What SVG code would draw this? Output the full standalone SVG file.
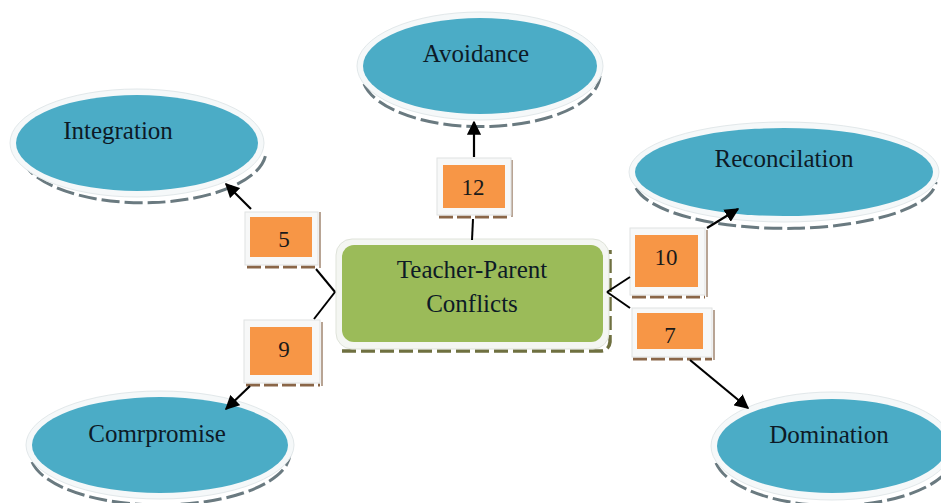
<svg xmlns="http://www.w3.org/2000/svg" width="941" height="503" viewBox="0 0 941 503">
<defs>
<style>
.ell{fill:#4bacc6}
.rim{fill:#f5f8f9;stroke:#e2e8ea;stroke-width:1}
.esh{fill:none;stroke:#6a7a80;stroke-width:3;stroke-dasharray:18 5}
.lbl{font-family:"Liberation Serif","Times New Roman",serif;font-size:25px;fill:#0d1a26;text-anchor:middle}
.num{font-family:"Liberation Serif","Times New Roman",serif;font-size:23px;fill:#1a1a1a;text-anchor:middle}
.frame{fill:#f7f8f8;stroke:#e0e2e2;stroke-width:1}
.org{fill:#f79646}
.bsh{fill:none;stroke:#8a6648;stroke-width:3;stroke-dasharray:14 4}
.bsr{fill:none;stroke:#a08670;stroke-width:1.5}
.con{fill:none;stroke:#000;stroke-width:2}
.arr{fill:none;stroke:#000;stroke-width:2.2;marker-end:url(#ah)}
</style>
<marker id="ah" viewBox="0 0 10 10" refX="9" refY="5" markerWidth="6.5" markerHeight="6.5" markerUnits="strokeWidth" orient="auto">
<path d="M0,0 L10,5 L0,10 z" fill="#000"/>
</marker>
</defs>
<rect width="941" height="503" fill="#ffffff"/>

<g id="integration">
<path class="esh" d="M22,160 A123,52 0 0 0 266,152"/>
<ellipse class="rim" cx="137" cy="143" rx="127" ry="54"/>
<ellipse class="ell" cx="137" cy="143" rx="121" ry="48"/>
<text class="lbl" x="118" y="139">Integration</text>
</g>

<g id="avoidance">
<path class="esh" d="M364,84 A119,52 0 0 0 600,76"/>
<ellipse class="rim" cx="480" cy="66" rx="123" ry="54"/>
<ellipse class="ell" cx="480" cy="66" rx="117" ry="48"/>
<text class="lbl" x="476" y="62">Avoidance</text>
</g>

<g id="reconcilation">
<path class="esh" d="M636,188 A151,48 0 0 0 936,182"/>
<ellipse class="rim" cx="784" cy="172" rx="155" ry="50"/>
<ellipse class="ell" cx="784" cy="172" rx="149" ry="44"/>
<text class="lbl" x="784" y="167">Reconcilation</text>
</g>

<g id="compromise">
<path class="esh" d="M32,462 A130,52 0 0 0 290,454"/>
<ellipse class="rim" cx="160" cy="445" rx="134" ry="54"/>
<ellipse class="ell" cx="160" cy="445" rx="128" ry="48"/>
<text class="lbl" x="157" y="442">Comrpromise</text>
</g>

<g id="domination">
<path class="esh" d="M716,463 A120,52 0 0 0 954,455"/>
<ellipse class="rim" cx="832" cy="446" rx="121" ry="54"/>
<ellipse class="ell" cx="832" cy="446" rx="115" ry="47"/>
<text class="lbl" x="829" y="443">Domination</text>
</g>

<g id="center">
<path d="M342,351 L600,351 Q609,351 610,342 L610,250" fill="none" stroke="#6f7040" stroke-width="3.5" stroke-dasharray="14 5"/>
<rect x="336" y="239" width="273" height="110" rx="16" fill="#f4f6f2" stroke="#dfe3da"/>
<rect x="342" y="245" width="261" height="97" rx="12" fill="#9bbb59"/>
<text class="lbl" x="472" y="278">Teacher-Parent</text>
<text class="lbl" x="472" y="312">Conflicts</text>
</g>

<g id="box12">
<path class="bsh" d="M439,217 L511,217"/>
<path class="bsr" d="M512,160 L512,217"/>
<rect class="frame" x="437" y="158" width="74" height="57"/>
<rect class="org" x="443" y="165" width="62" height="43"/>
<text class="num" x="473" y="195">12</text>
</g>

<g id="box5">
<path class="bsh" d="M247,267 L318,267"/>
<path class="bsr" d="M320,212 L320,268"/>
<rect class="frame" x="245" y="212" width="73" height="53"/>
<rect class="org" x="250" y="217" width="62" height="40"/>
<text class="num" x="284" y="247">5</text>
</g>

<g id="box9">
<path class="bsh" d="M246,385 L320,385"/>
<path class="bsr" d="M322,322 L322,386"/>
<rect class="frame" x="244" y="320" width="76" height="63"/>
<rect class="org" x="250" y="327" width="62" height="48"/>
<text class="num" x="284" y="357">9</text>
</g>

<g id="box10">
<path class="bsh" d="M632,297 L705,297"/>
<path class="bsr" d="M707,230 L707,297"/>
<rect class="frame" x="630" y="228" width="75" height="67"/>
<rect class="org" x="635" y="235" width="63" height="52"/>
<text class="num" x="666" y="265">10</text>
</g>

<g id="box7">
<path class="bsh" d="M633,359 L712,359"/>
<path class="bsr" d="M714,310 L714,360"/>
<rect class="frame" x="632" y="308" width="80" height="49"/>
<rect class="org" x="637" y="313" width="66" height="36"/>
<text class="num" x="670" y="343">7</text>
</g>

<g id="connectors">
<line class="con" x1="472" y1="240" x2="473" y2="219"/>
<line class="arr" x1="474" y1="157" x2="474" y2="122"/>
<line class="con" x1="316" y1="269" x2="335" y2="292"/>
<line class="arr" x1="251" y1="209" x2="226" y2="184"/>
<line class="con" x1="335" y1="292" x2="314" y2="319"/>
<line class="arr" x1="250" y1="386" x2="226" y2="409"/>
<line class="con" x1="607" y1="292" x2="630" y2="277"/>
<line class="arr" x1="707" y1="228" x2="738" y2="209"/>
<line class="con" x1="607" y1="292" x2="630" y2="308"/>
<line class="arr" x1="690" y1="360" x2="748" y2="408"/>
</g>
</svg>
